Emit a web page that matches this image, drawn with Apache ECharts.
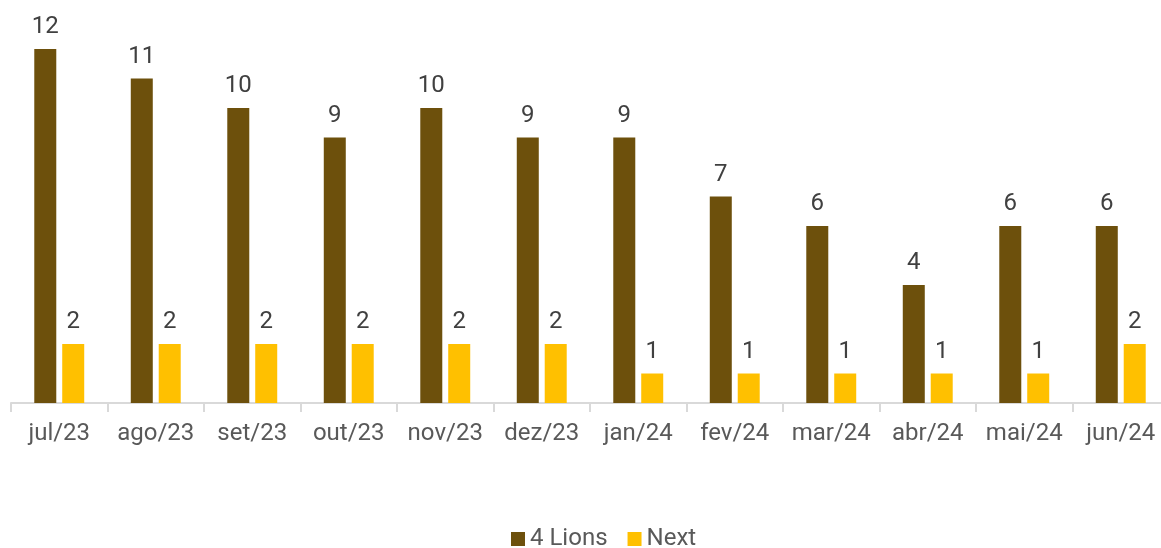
<!DOCTYPE html>
<html>
<head>
<meta charset="utf-8">
<script src="https://cdn.jsdelivr.net/npm/echarts@6/dist/echarts.min.js"></script>
<style>
  html, body { margin: 0; padding: 0; background: #fff; }
  #chart { width: 1161px; height: 548px; }
</style>
</head>
<body>
<div id="chart"></div>
<script>
const months = ['jul/23', 'ago/23', 'set/23', 'out/23', 'nov/23', 'dez/23', 'jan/24', 'fev/24', 'mar/24', 'abr/24', 'mai/24', 'jun/24'];
const lions = [12, 11, 10, 9, 10, 9, 9, 7, 6, 4, 6, 6];
const next = [2, 2, 2, 2, 2, 2, 1, 1, 1, 1, 1, 2];

const textColor = '#595959';
const font = 'Roboto';

const chart = echarts.init(document.getElementById('chart'));

const barLabel = {
  show: true,
  position: 'top',
  distance: 10,
  color: '#404040',
  fontFamily: font,
  fontSize: 24
};

chart.setOption({
  animation: false,
  textStyle: {fontFamily: font},
  // grid runs a little past the right edge, like the original
  grid: {left: 11, width: 1158, top: 49, height: 354, outerBoundsMode: 'none', containLabel: false},
  legend: {
    bottom: -8,
    left: 506,
    icon: 'rect',
    itemWidth: 14,
    itemHeight: 14,
    itemGap: 20,
    textStyle: {color: textColor, fontSize: 24, fontFamily: font}
  },
  xAxis: {
    type: 'category',
    data: months,
    axisLine: {lineStyle: {color: '#d9d9d9', width: 2}},
    axisTick: {show: true, length: 9, lineStyle: {color: '#d9d9d9', width: 2}},
    axisLabel: {color: textColor, fontSize: 24, margin: 19, interval: 0, fontFamily: font}
  },
  yAxis: {
    type: 'value',
    min: 0,
    max: 12,
    show: false
  },
  series: [
    {
      name: '4 Lions',
      type: 'bar',
      data: lions,
      barWidth: 22,
      barGap: '27%',
      itemStyle: {color: '#6D500C'},
      label: barLabel
    },
    {
      name: 'Next',
      type: 'bar',
      data: next,
      barWidth: 22,
      itemStyle: {color: '#FFC000'},
      label: barLabel
    }
  ]
});
</script>
</body>
</html>
